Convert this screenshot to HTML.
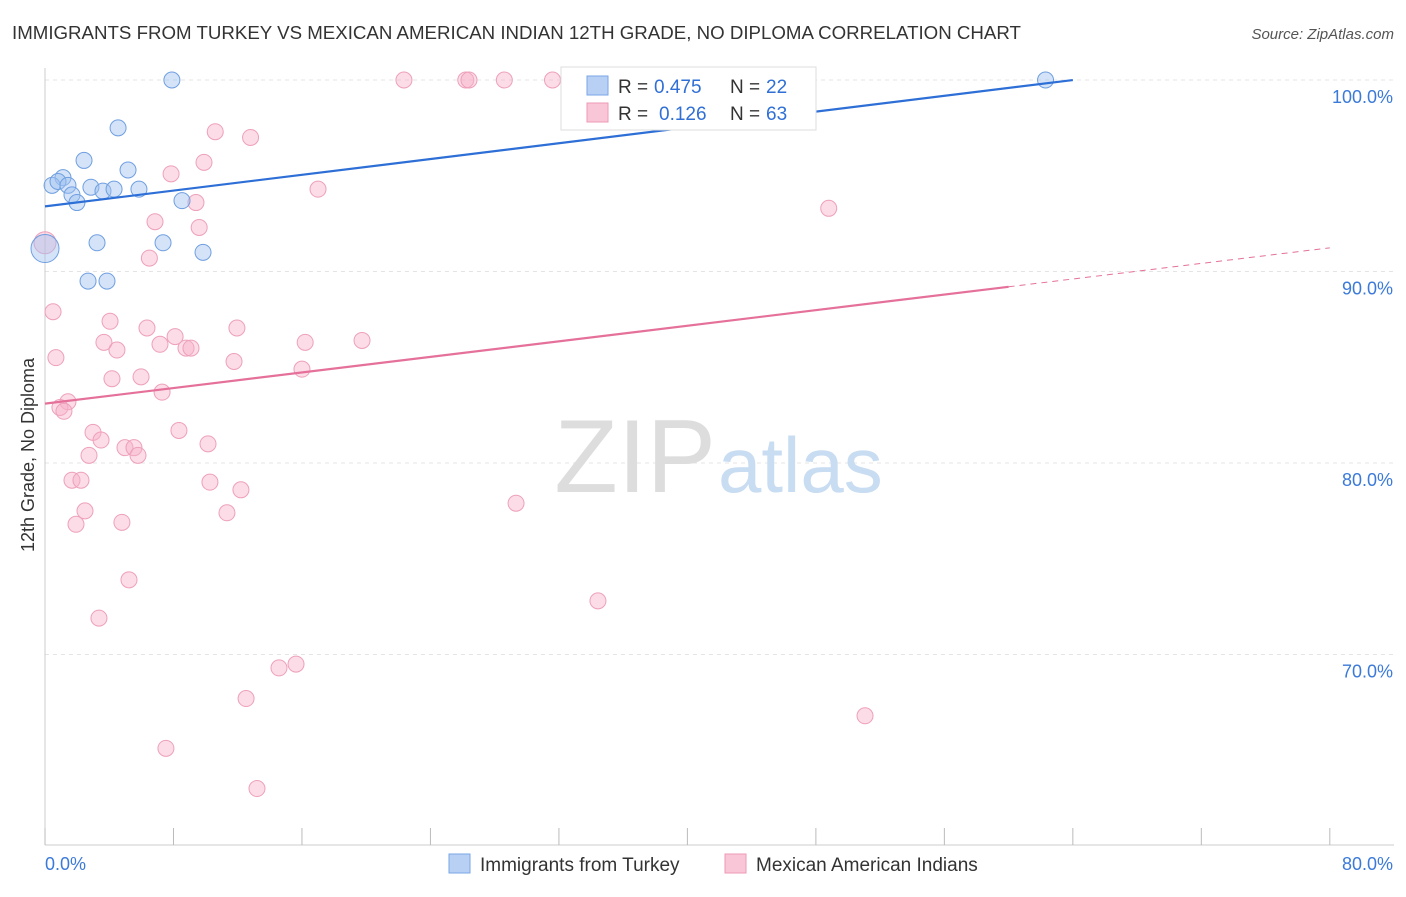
<!DOCTYPE html>
<html><head><meta charset="utf-8"><style>
body{margin:0;background:#fff;font-family:"Liberation Sans",sans-serif}
svg text{font-family:"Liberation Sans",sans-serif}
</style></head><body>
<svg id="c" width="1406" height="892">
<text x="12" y="39" font-size="18.7" fill="#333">IMMIGRANTS FROM TURKEY VS MEXICAN AMERICAN INDIAN 12TH GRADE, NO DIPLOMA CORRELATION CHART</text>
<text x="1394" y="39" font-size="15" fill="#555" font-style="italic" text-anchor="end">Source: ZipAtlas.com</text>
<text x="0" y="0" transform="translate(34,455) rotate(-90)" font-size="18" fill="#333" text-anchor="middle">12th Grade, No Diploma</text>
<g id="grid"></g>
<text x="716" y="492" font-size="104" fill="#ddd" text-anchor="end" font-family="Liberation Serif">ZIP</text>
<text x="718" y="492" font-size="78" fill="#c8dcf2">atlas</text>
<g id="pts"></g>
<g id="lines"></g>
<g>
<rect x="561" y="67" width="255" height="63" fill="#fff" stroke="#ddd"/>
<rect x="587" y="76" width="21" height="19" fill="#b8d0f4" stroke="#7aa6e6"/>
<rect x="587" y="103" width="21" height="19" fill="#f8c6d6" stroke="#ee9ab5"/>
<text x="618" y="93" font-size="19" fill="#333">R =</text>
<text x="654" y="93" font-size="19" fill="#2f6fd6">0.475</text>
<text x="730" y="93" font-size="19" fill="#333">N =</text>
<text x="766" y="93" font-size="19" fill="#2f6fd6">22</text>
<text x="618" y="120" font-size="19" fill="#333">R =</text>
<text x="659" y="120" font-size="19" fill="#2f6fd6">0.126</text>
<text x="730" y="120" font-size="19" fill="#333">N =</text>
<text x="766" y="120" font-size="19" fill="#2f6fd6">63</text>
</g>
<g>
<rect x="449" y="854" width="21" height="19" fill="#b8d0f4" stroke="#7aa6e6"/>
<text x="480" y="871" font-size="19" fill="#333">Immigrants from Turkey</text>
<rect x="725" y="854" width="21" height="19" fill="#f8c6d6" stroke="#ee9ab5"/>
<text x="756" y="871" font-size="19" fill="#333">Mexican American Indians</text>
</g>
</svg>
<script>
const yTicks=[100,90,80,70];
const yTickLabels=["100.0%","90.0%","80.0%","70.0%"];
const xTicks=[0,8,16,24,32,40,48,56,64,72,80];
const blueX=[7.9,62.3,4.55,2.43,5.17,1.12,0.44,0.81,1.43,2.86,3.61,4.3,5.85,1.68,1.99,8.53,3.24,7.35,9.84,2.68,3.86,0];
const blueY=[100,100,97.5,95.8,95.3,94.9,94.5,94.7,94.5,94.4,94.2,94.3,94.3,94.0,93.6,93.7,91.5,91.5,91.0,89.5,89.5,91.2];
const pinkX=[22.35,26.2,26.4,28.6,31.6,10.6,12.8,9.9,7.85,17.0,9.4,6.85,9.6,48.8,0,6.5,0.5,4.05,6.35,11.95,8.1,3.67,7.16,4.48,8.78,9.09,16.2,19.74,0.68,11.77,16.0,4.17,5.98,7.29,1.43,0.93,1.18,2.99,8.34,3.49,10.15,4.98,5.54,5.79,2.74,1.68,2.24,10.27,12.2,29.33,2.49,11.33,1.93,4.79,5.23,34.43,3.36,15.63,14.57,12.52,51.06,7.53,13.2];
const pinkY=[100,100,100,100,100,97.3,97.0,95.7,95.1,94.3,93.6,92.6,92.3,93.3,91.5,90.7,87.9,87.4,87.05,87.05,86.6,86.3,86.2,85.9,86.0,86.0,86.3,86.4,85.5,85.3,84.9,84.4,84.5,83.7,83.2,82.9,82.7,81.6,81.7,81.2,81.0,80.8,80.8,80.4,80.4,79.1,79.1,79.0,78.6,77.9,77.5,77.4,76.8,76.9,73.9,72.8,71.9,69.5,69.3,67.7,66.8,65.1,63.0];
const blueTrend=[93.4,0.1031]; // intercept, slope
const pinkTrend=[83.1,0.1017];
const X=v=>45+v*16.06, Y=v=>80+(100-v)*19.15;
const NS="http://www.w3.org/2000/svg";
function mk(t,a,p){const e=document.createElementNS(NS,t);for(const k in a)e.setAttribute(k,a[k]);p.appendChild(e);return e;}
const g=document.getElementById('grid');
yTicks.forEach((t,i)=>{
 const l=mk('line',{x1:45,x2:1394,y1:Y(t),y2:Y(t),stroke:'#e4e4e4','stroke-dasharray':'4,4'},g);
 
 
 const tx=mk('text',{x:1393,y:Y(t)+23,'font-size':18,fill:'#3b7ad9','text-anchor':'end'},g);
 tx.textContent=yTickLabels[i];
 
 
});
const ax=mk('line',{x1:45,x2:1394,y1:845,y2:845,stroke:'#ccc'},g);


const ay=mk('line',{x1:45,x2:45,y1:68,y2:845,stroke:'#ccc'},g);


xTicks.forEach(t=>{const l=mk('line',{x1:X(t),x2:X(t),y1:828,y2:845,stroke:'#bbb'},g);
 
 });
[[0,'0.0%','start',45],[80,'80.0%','end',1393]].forEach(a=>{const tx=mk('text',{x:a[3],y:870,'font-size':18,fill:'#3b7ad9','text-anchor':a[2]},g);tx.textContent=a[1];
 
 });
const p=document.getElementById('pts');
pinkX.forEach((x,i)=>{const c=mk('circle',{cx:X(x),cy:Y(pinkY[i]),r:(x===0?11:8),fill:'rgba(246,178,201,0.45)',stroke:'#eea0ba','stroke-width':1},p);
 
 });
blueX.forEach((x,i)=>{const c=mk('circle',{cx:X(x),cy:Y(blueY[i]),r:(x===0?14:8),fill:'rgba(160,194,240,0.45)',stroke:'#6f9fe0','stroke-width':1},p);
 
 });
const L=document.getElementById('lines');
const b=mk('line',{x1:X(0),y1:Y(blueTrend[0]),x2:X(64),y2:Y(blueTrend[0]+64*blueTrend[1]),stroke:'#2d6fd6','stroke-width':2.2},L);


const pk=mk('line',{x1:X(0),y1:Y(pinkTrend[0]),x2:X(60),y2:Y(pinkTrend[0]+60*pinkTrend[1]),stroke:'#e5709a','stroke-width':2.2},L);


const pd=mk('line',{x1:X(60),y1:Y(pinkTrend[0]+60*pinkTrend[1]),x2:X(80),y2:Y(pinkTrend[0]+80*pinkTrend[1]),stroke:'#e5709a','stroke-width':1,'stroke-dasharray':'6,5'},L);


</script>
</body></html>
